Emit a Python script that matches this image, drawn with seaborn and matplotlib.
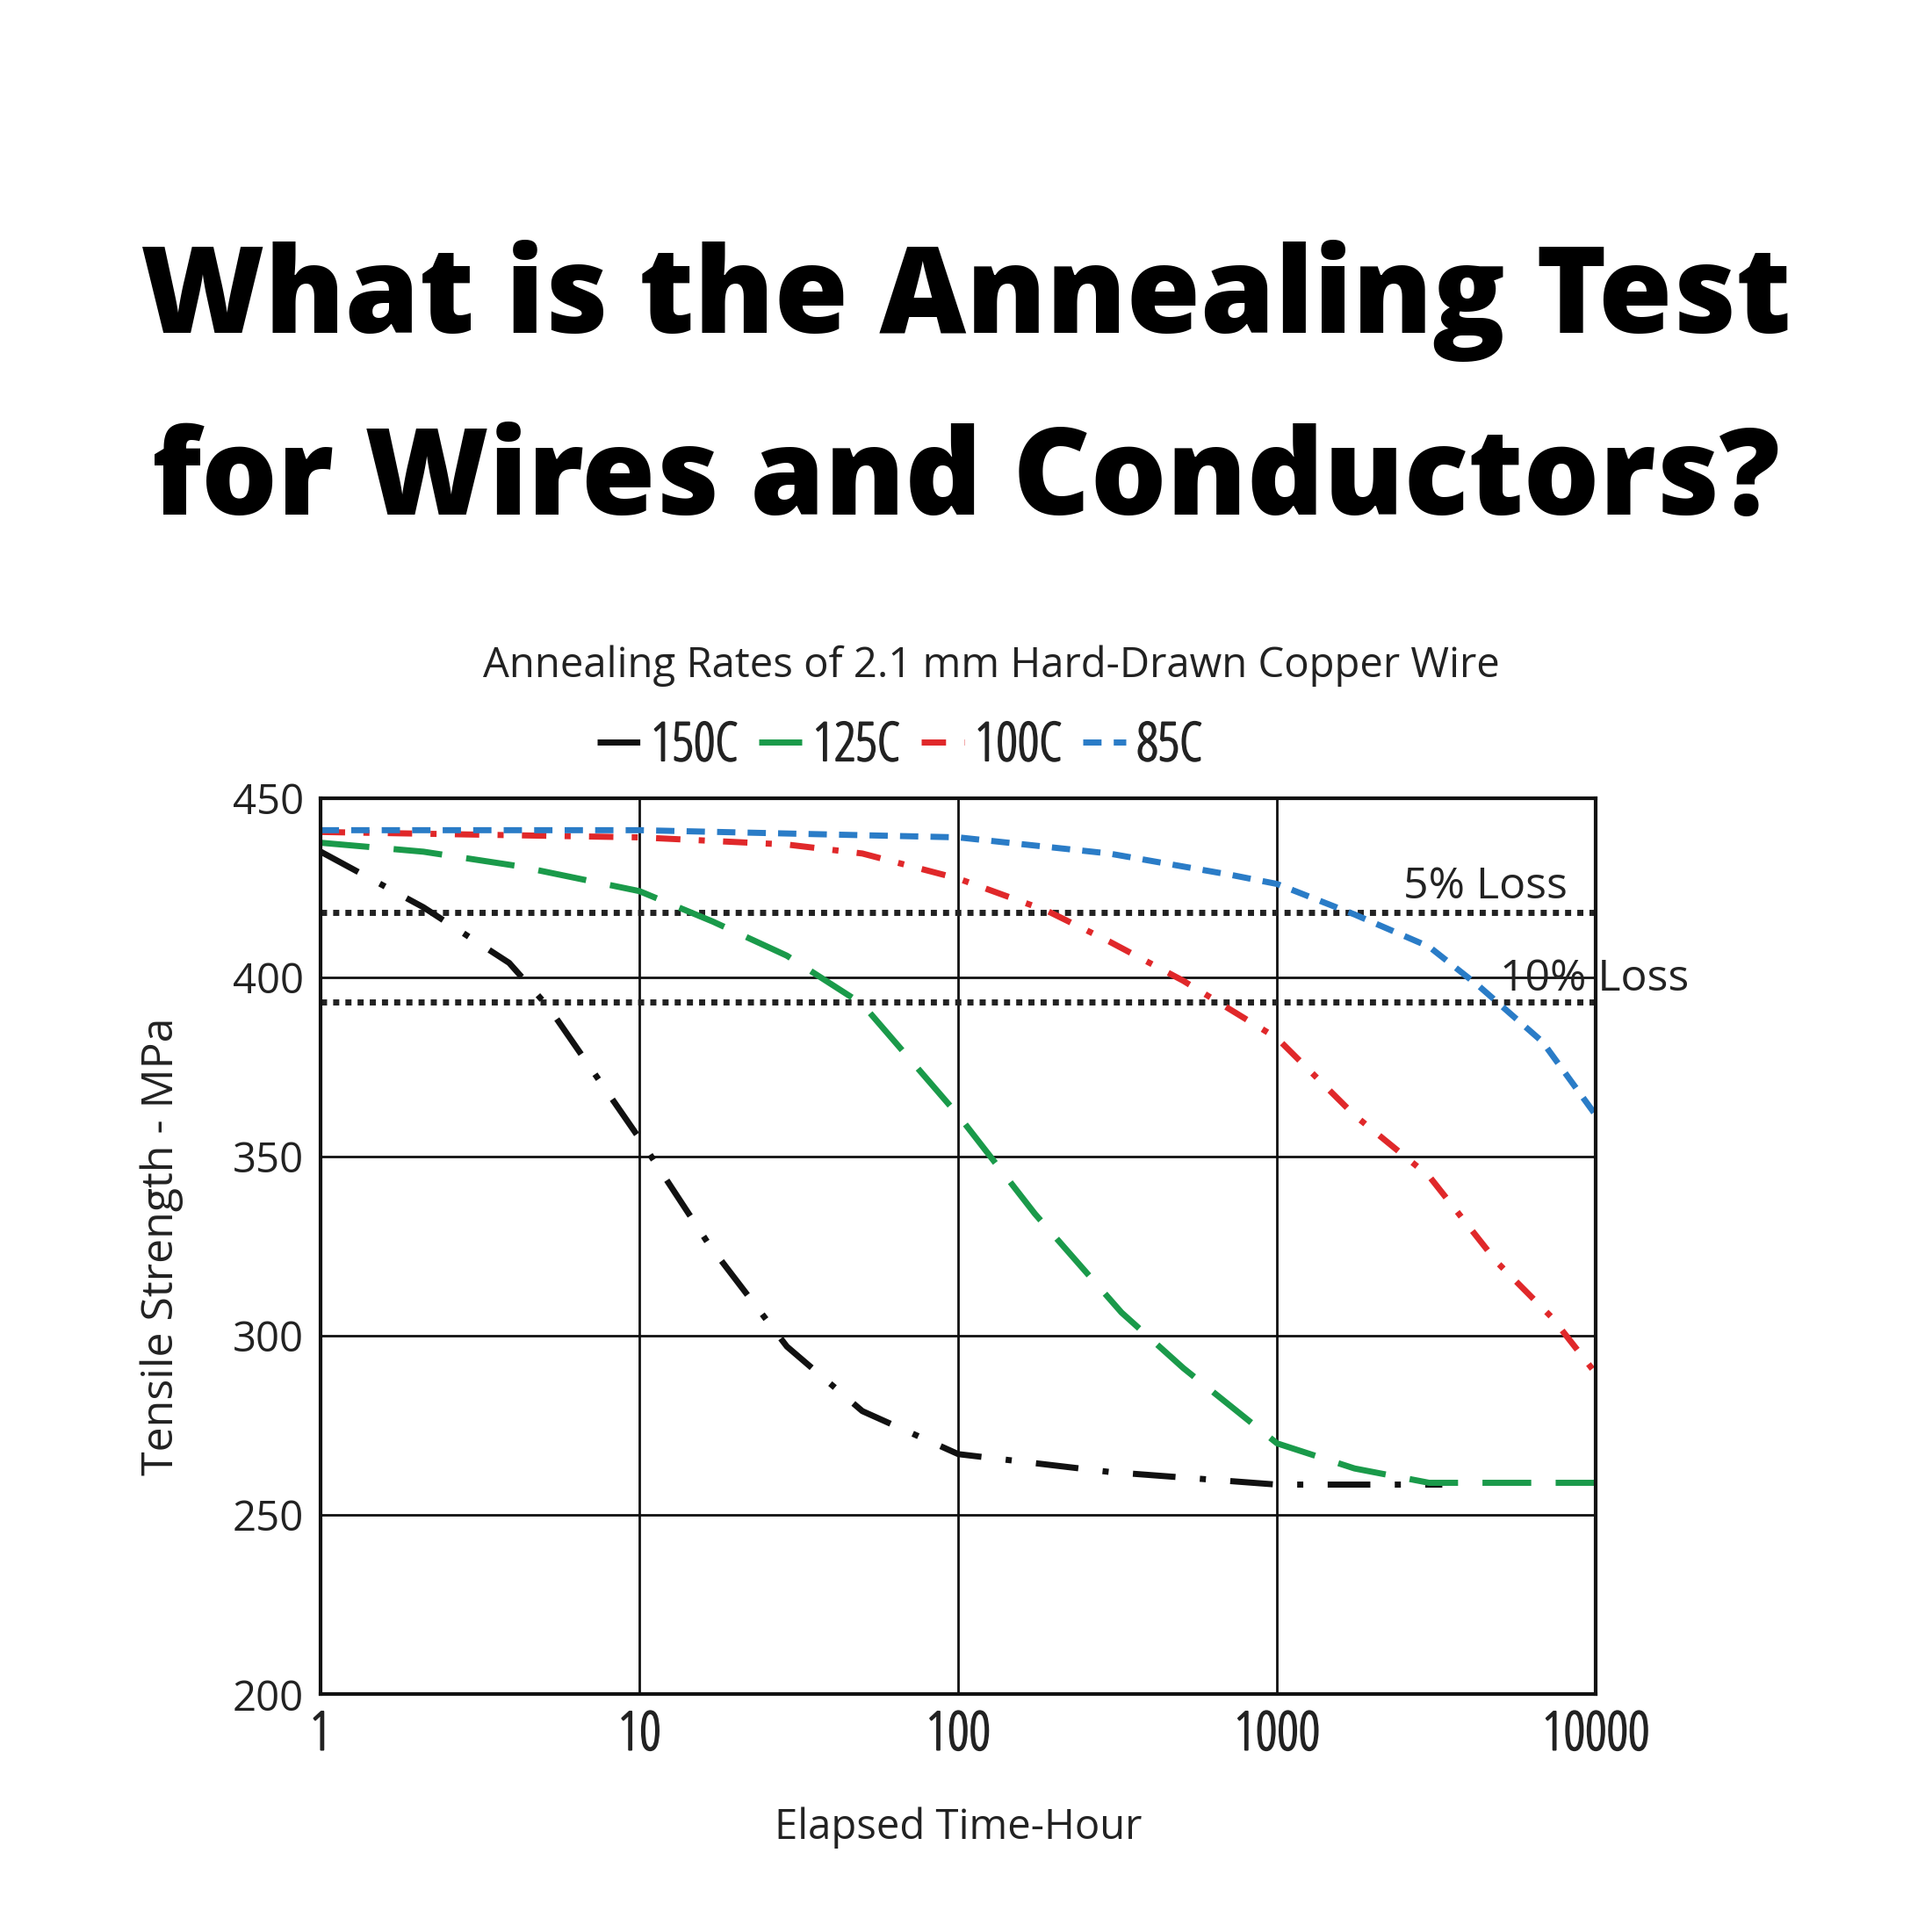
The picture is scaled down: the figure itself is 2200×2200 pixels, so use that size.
import numpy as np
import pandas as pd
import matplotlib
matplotlib.use("Agg")
import matplotlib.pyplot as plt
import matplotlib.patheffects as pe
from matplotlib.font_manager import FontProperties
import seaborn as sns

# ---- data ----
t150 = [1, 2.1, 3.9, 5.2, 10, 16.5, 29, 50, 100, 300, 1000, 3300]
s150 = [435, 419.5, 404, 391.5, 355, 325.5, 297, 279, 267, 262, 258.5, 258.5]

t125 = [1, 2.1, 4.15, 10, 17, 29, 50, 100, 174, 325, 508, 1000, 1750, 3000, 10000]
s125 = [437.5, 435, 431, 424, 415.5, 406, 392.5, 361.5, 334, 306.5, 291, 270, 263, 259, 259]

t100 = [1, 10, 29, 50, 100, 190, 297, 508, 1000, 1750, 3000, 4900, 7300, 10000]
s100 = [440.5, 439, 437, 434.5, 427.5, 418.5, 410, 399, 383, 361.5, 344.5, 320.5, 305, 289.5]

t85 = [1, 10, 100, 297, 720, 1000, 1750, 3000, 4300, 6800, 10000]
s85 = [441, 441, 439, 434.5, 428.5, 426, 417.5, 408.5, 397.5, 382, 361.5]

series_names = ["150C", "125C", "100C", "85C"]
series_colors = ["#111111", "#1a9a4a", "#e0282a", "#2a7cc7"]
loss_levels = [418, 393]
loss_labels = ["5% Loss", "10% Loss"]
x_ticks = [1, 10, 100, 1000, 10000]
y_ticks = [200, 250, 300, 350, 400, 450]

frames = []
for name, t, s in zip(series_names, [t150, t125, t100, t85], [s150, s125, s100, s85]):
    frames.append(pd.DataFrame({"time": t, "strength": s, "series": name}))
df = pd.concat(frames, ignore_index=True)

sns.set_theme(style="white")
plt.rcParams['font.family'] = ['Open Sans', 'DejaVu Sans']

thick = [pe.withStroke(linewidth=1.4, foreground="#222222")]

fig = plt.figure(figsize=(22, 22), dpi=100)
ax = fig.add_axes([0.166, 0.123, 0.660, 0.464])

dash_styles = {
    "150C": (0, (7, 4, 1, 4)),
    "125C": (0, (8, 4)),
    "100C": (0, (4, 3, 1, 3)),
    "85C": (0, (3, 2)),
}
for name, color in zip(series_names, series_colors):
    sub = df[df["series"] == name]
    sns.lineplot(data=sub, x="time", y="strength", ax=ax, color=color,
                 linewidth=5, label=name, sort=True, estimator=None)
    ax.lines[-1].set_linestyle(dash_styles[name])

ax.set_xscale("log")
ax.set_xlim(1, 10000)
ax.set_ylim(200, 450)
ax.set_xticks(x_ticks)
ax.set_xticklabels([str(v) for v in x_ticks])
ax.set_yticks(y_ticks)
ax.set_yticklabels([str(v) for v in y_ticks])
ax.minorticks_off()
ax.tick_params(axis="x", length=0, pad=12)
ax.tick_params(axis="y", length=0, pad=14)
for lab in ax.get_xticklabels():
    lab.set_fontsize(44)
    lab.set_fontstretch("condensed")
    lab.set_color("#222222")
    lab.set_path_effects(thick)
for lab in ax.get_yticklabels():
    lab.set_fontsize(34)
    lab.set_color("#222222")

ax.grid(True, which="major", color="#111111", linewidth=2)
for sp in ax.spines.values():
    sp.set_color("#111111")
    sp.set_linewidth(3)

for lvl in loss_levels:
    ax.axhline(lvl, color="#222222", linewidth=5, linestyle=(0, (1, 1)), zorder=1.5)

ax.text(8150, 425, loss_labels[0], ha="right", va="center", fontsize=36, color="#222222")
ax.text(5000, 399.5, loss_labels[1], ha="left", va="center", fontsize=36, color="#222222",
        clip_on=False)

ax.set_xlabel("Elapsed Time-Hour", fontsize=34, labelpad=36, color="#222222")
ax.set_ylabel("Tensile Strength - MPa", fontsize=36, labelpad=40, color="#222222")

leg_prop = FontProperties(family="Open Sans", size=44, stretch="condensed")
leg = ax.legend(loc="center", bbox_to_anchor=(0.454, 1.057), ncol=4, frameon=False,
                prop=leg_prop, handlelength=0.8, columnspacing=0.4, handletextpad=0.2)
for t in leg.get_texts():
    t.set_color("#222222")
    t.set_path_effects(thick)

fig.text(0.5, 0.8445, "What is the Annealing Test", ha="center", va="center",
         fontsize=98, fontweight="heavy", color="black")
fig.text(0.5, 0.750, "for Wires and Conductors?", ha="center", va="center",
         fontsize=98, fontweight="heavy", color="black")
fig.text(0.513, 0.6555, "Annealing Rates of 2.1 mm Hard-Drawn Copper Wire", ha="center",
         va="center", fontsize=34, color="#222222")

fig.savefig("out.png", dpi=100, facecolor="white")
